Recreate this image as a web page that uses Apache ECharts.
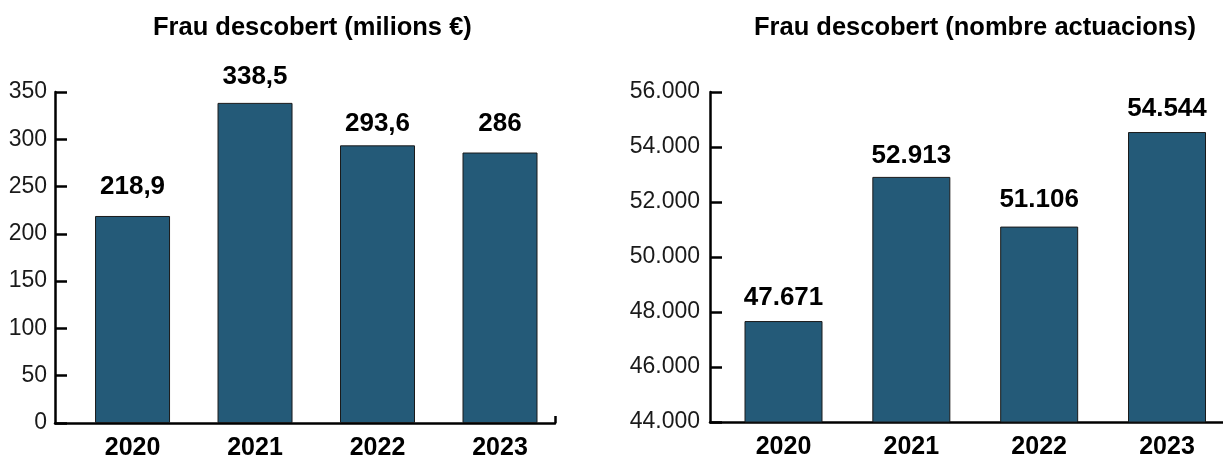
<!DOCTYPE html>
<html>
<head>
<meta charset="utf-8">
<script src="https://cdn.jsdelivr.net/npm/echarts@6/dist/echarts.min.js"></script>
<style>
html,body{margin:0;padding:0;background:#fff;}
#chart{width:1223px;height:457px;}
</style>
</head>
<body>
<div id="chart"></div>
<script>
// ---- data ----
const years = [2020, 2021, 2022, 2023];
const yearLabels = ['2020', '2021', '2022', '2023'];
const fraudMillions = [218.9, 338.5, 293.6, 286];
const fraudActions = [47671, 52913, 51106, 54544];
const titleLeft = 'Frau descobert (milions €)';
const titleRight = 'Frau descobert (nombre actuacions)';

// ---- styles (label gaps above bars, px) ----
const leftLabelGap = [16, 13, 9, 16];
const rightLabelGap = [10, 8, 14, 10];

const FONT = '"Liberation Sans", Arial, Helvetica, sans-serif';
const BAR = '#245a78';

function fmtComma(v) { return String(v).replace('.', ','); }
function fmtThousands(v) {
  const s = String(Math.round(v));
  return s.replace(/\B(?=(\d{3})+(?!\d))/g, '.');
}

const chart = echarts.init(document.getElementById('chart'), null, {renderer: 'canvas'});

const axisLineStyle = {color: '#000', width: 2.5};

function xAxisCfg(gridIndex, min, max, endTick) {
  return {
    type: 'value', gridIndex: gridIndex, min: min, max: max,
    splitLine: {show: false},
    axisLine: {show: true, onZero: false, lineStyle: axisLineStyle},
    axisTick: endTick ? {show: true, inside: true, length: 7, customValues: [max], lineStyle: {color: '#000', width: 2.5}} : {show: false},
    axisLabel: {
      customValues: years, margin: 13,
      fontFamily: FONT, fontSize: 25, fontWeight: 'bold', color: '#000',
      formatter: function (v) { return yearLabels[years.indexOf(Math.round(v))] || ''; }
    }
  };
}

function yAxisCfg(gridIndex, min, max, interval, fmt, margin) {
  return {
    type: 'value', gridIndex: gridIndex, min: min, max: max, interval: interval,
    splitLine: {show: false},
    axisLine: {show: true, onZero: false, lineStyle: axisLineStyle},
    axisTick: {show: true, inside: true, length: 12, lineStyle: {color: '#000', width: 2.5}},
    axisLabel: {margin: margin, fontFamily: FONT, fontSize: 23, color: '#1a1a1a', formatter: fmt}
  };
}

function barSeries(idx, values, gaps, fmt, width) {
  return {
    type: 'bar', xAxisIndex: idx, yAxisIndex: idx, barWidth: width,
    itemStyle: {color: BAR, borderColor: '#1a1a1a', borderWidth: 1},
    label: {
      show: true, position: 'top', fontFamily: FONT, fontSize: 26, fontWeight: 'bold',
      color: '#000', lineHeight: 26,
      formatter: function (p) { return fmt(p.value[1]); }
    },
    data: values.map(function (v, i) {
      return {value: [years[i], v], label: {distance: gaps[i]}};
    }),
    animation: false
  };
}

const option = {
  animation: false,
  backgroundColor: '#fff',
  title: [
    {text: titleLeft, left: 148, top: 10, textStyle: {fontFamily: FONT, fontSize: 25.5, fontWeight: 'bold', color: '#000'}},
    {text: titleRight, left: 749, top: 10, textStyle: {fontFamily: FONT, fontSize: 25.5, fontWeight: 'bold', color: '#000'}}
  ],
  grid: [
    {left: 55, top: 92, width: 500, height: 331, outerBoundsMode: 'none', containLabel: false},
    {left: 710, top: 92, width: 513, height: 330, outerBoundsMode: 'none', containLabel: false}
  ],
  xAxis: [
    xAxisCfg(0, 2019.367, 2023.449, true),
    xAxisCfg(1, 2019.425, 2023.438, false)
  ],
  yAxis: [
    yAxisCfg(0, 0, 350, 50, function (v) { return String(v); }, 8),
    yAxisCfg(1, 44000, 56000, 2000, fmtThousands, 10)
  ],
  series: [
    barSeries(0, fraudMillions, leftLabelGap, fmtComma, 75),
    barSeries(1, fraudActions, rightLabelGap, fmtThousands, 78)
  ]
};
chart.setOption(option);
</script>
</body>
</html>
